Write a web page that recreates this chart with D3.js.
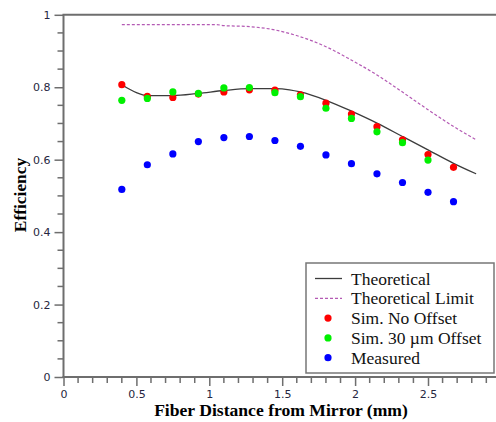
<!DOCTYPE html>
<html>
<head>
<meta charset="utf-8">
<script src="https://cdn.jsdelivr.net/npm/d3@7"></script>
<style>
  body { margin: 0; background: #fff; }
  .tick text { font-family: "DejaVu Sans", Verdana, sans-serif; font-size: 11px; fill: #262640; }
</style>
</head>
<body>
<div id="chart"></div>
<script>
// sampled x positions (mm)
const xs = [0.4, 0.575, 0.75, 0.925, 1.1, 1.275, 1.45, 1.625, 1.8, 1.975, 2.15, 2.325, 2.5, 2.675];
const simNoOffset = [0.807, 0.775, 0.772, 0.781, 0.787, 0.793, 0.792, 0.779, 0.756, 0.726, 0.691, 0.655, 0.614, 0.579];
const sim30Offset = [0.764, 0.769, 0.787, 0.783, 0.798, 0.799, 0.785, 0.774, 0.742, 0.714, 0.677, 0.647, 0.599];
const measured = [0.518, 0.586, 0.616, 0.650, 0.661, 0.664, 0.653, 0.637, 0.613, 0.589, 0.561, 0.537, 0.510, 0.484];

const theoryX = [0.4, 0.45, 0.5, 0.575, 0.75, 0.925, 1.1, 1.275, 1.45, 1.55, 1.625, 1.8, 1.975, 2.15, 2.325, 2.5, 2.675, 2.83];
const theoryY = [0.807, 0.795, 0.785, 0.777, 0.777, 0.783, 0.791, 0.796, 0.796, 0.793, 0.787, 0.764, 0.734, 0.701, 0.664, 0.627, 0.590, 0.561];
const limitX = [0.4, 0.7, 1.05, 1.1, 1.25, 1.44, 1.62, 1.8, 1.97, 2.15, 2.32, 2.5, 2.67, 2.83];
const limitY = [0.973, 0.973, 0.973, 0.970, 0.968, 0.959, 0.940, 0.912, 0.876, 0.834, 0.788, 0.738, 0.693, 0.655];

const xTicks = [0, 0.5, 1, 1.5, 2, 2.5];
const yTicks = [0, 0.2, 0.4, 0.6, 0.8, 1];
const legendLabels = ["Theoretical", "Theoretical Limit", "Sim. No Offset", "Sim. 30 \u00b5m Offset", "Measured"];

(function() {
    const width = 496, height = 422;
    const plotLeft = 63.5, plotBottom = 377, plotTop = 14.8, plotRight = 496;
    const axisColor = "#6e6e6e";

    const svg = d3.select("#chart").append("svg")
        .attr("width", width)
        .attr("height", height);

    const x = d3.scaleLinear().domain([0, (plotRight - plotLeft) / 145.8]).range([plotLeft, plotRight]);
    const y = d3.scaleLinear().domain([0, 1]).range([plotBottom, plotTop]);

    // minor ticks
    const xMinor = d3.range(0, 30).map(i => i / 10).filter(v => !xTicks.some(t => Math.abs(t - v) < 1e-6));
    const yMinor = d3.range(0, 20).map(i => i / 20).filter(v => !yTicks.some(t => Math.abs(t - v) < 1e-6));

    svg.append("g").selectAll("line").data(xMinor).enter().append("line")
        .attr("x1", d => x(d)).attr("x2", d => x(d))
        .attr("y1", plotBottom).attr("y2", plotBottom + 6)
        .attr("stroke", axisColor).attr("stroke-width", 1.5);
    svg.append("g").selectAll("line").data(yMinor).enter().append("line")
        .attr("y1", d => y(d)).attr("y2", d => y(d))
        .attr("x1", plotLeft).attr("x2", plotLeft - 6)
        .attr("stroke", axisColor).attr("stroke-width", 1.5);

    const xAxis = svg.append("g")
        .attr("transform", `translate(0,${plotBottom})`)
        .call(d3.axisBottom(x).tickValues(xTicks).tickSize(9).tickPadding(4).tickFormat(d3.format("")));
    const yAxis = svg.append("g")
        .attr("transform", `translate(${plotLeft},0)`)
        .call(d3.axisLeft(y).tickValues(yTicks).tickSize(9).tickPadding(4).tickFormat(d3.format("")));

    [xAxis, yAxis].forEach(g => {
        g.select(".domain").remove();
        g.selectAll(".tick line").attr("stroke", axisColor).attr("stroke-width", 1.5);
    });

    // frame lines: left, bottom, top
    svg.append("line").attr("x1", plotLeft).attr("x2", plotLeft).attr("y1", plotTop).attr("y2", plotBottom + 1)
        .attr("stroke", axisColor).attr("stroke-width", 2);
    svg.append("line").attr("x1", plotLeft - 1).attr("x2", plotRight).attr("y1", plotBottom).attr("y2", plotBottom)
        .attr("stroke", axisColor).attr("stroke-width", 2);
    svg.append("line").attr("x1", plotLeft - 1).attr("x2", plotRight).attr("y1", plotTop).attr("y2", plotTop)
        .attr("stroke", axisColor).attr("stroke-width", 2);

    // lines
    const line = d3.line().x(d => x(d[0])).y(d => y(d[1])).curve(d3.curveMonotoneX);

    svg.append("path")
        .datum(limitX.map((v, i) => [v, limitY[i]]))
        .attr("d", line)
        .attr("fill", "none")
        .attr("stroke", "#b45ab4")
        .attr("stroke-width", 1.2)
        .attr("stroke-dasharray", "3,2");

    svg.append("path")
        .datum(theoryX.map((v, i) => [v, theoryY[i]]))
        .attr("d", line)
        .attr("fill", "none")
        .attr("stroke", "#3c3c3c")
        .attr("stroke-width", 1.3);

    // points
    const series = [
        { values: simNoOffset, color: "#ff0000" },
        { values: sim30Offset, color: "#00f000" },
        { values: measured, color: "#0000ff" }
    ];
    series.forEach(s => {
        svg.append("g").selectAll("circle")
            .data(s.values.map((v, i) => [xs[i], v]))
            .enter().append("circle")
            .attr("cx", d => x(d[0]))
            .attr("cy", d => y(d[1]))
            .attr("r", 3.6)
            .attr("fill", s.color);
    });

    // axis titles
    svg.append("text")
        .attr("x", 281).attr("y", 416)
        .attr("text-anchor", "middle")
        .style("font-family", "'Liberation Serif', 'Times New Roman', serif")
        .style("font-weight", "bold")
        .style("font-size", "17.6px")
        .text("Fiber Distance from Mirror (mm)");

    svg.append("text")
        .attr("transform", "translate(26,195) rotate(-90)")
        .attr("text-anchor", "middle")
        .style("font-family", "'Liberation Serif', 'Times New Roman', serif")
        .style("font-weight", "bold")
        .style("font-size", "17.4px")
        .text("Efficiency");

    // legend
    const legend = svg.append("g");
    legend.append("rect")
        .attr("x", 306).attr("y", 263)
        .attr("width", 188).attr("height", 110)
        .attr("fill", "#fff")
        .attr("stroke", "#777")
        .attr("stroke-width", 1.5);

    const rowY = i => 278.5 + i * 19.8;
    legend.append("line").attr("x1", 315).attr("x2", 342).attr("y1", rowY(0)).attr("y2", rowY(0))
        .attr("stroke", "#3c3c3c").attr("stroke-width", 1.3);
    legend.append("line").attr("x1", 315).attr("x2", 342).attr("y1", rowY(1)).attr("y2", rowY(1))
        .attr("stroke", "#b45ab4").attr("stroke-width", 1.2).attr("stroke-dasharray", "3,2");
    series.forEach((s, i) => {
        legend.append("circle").attr("cx", 328).attr("cy", rowY(i + 2)).attr("r", 3.6).attr("fill", s.color);
    });
    legend.selectAll("text.lab").data(legendLabels).enter().append("text")
        .attr("class", "lab")
        .attr("x", 351)
        .attr("y", (d, i) => rowY(i) + 6)
        .style("font-family", "'Liberation Serif', 'Times New Roman', serif")
        .style("font-size", "17.5px")
        .attr("fill", "#111")
        .text(d => d);
})();
</script>
</body>
</html>
